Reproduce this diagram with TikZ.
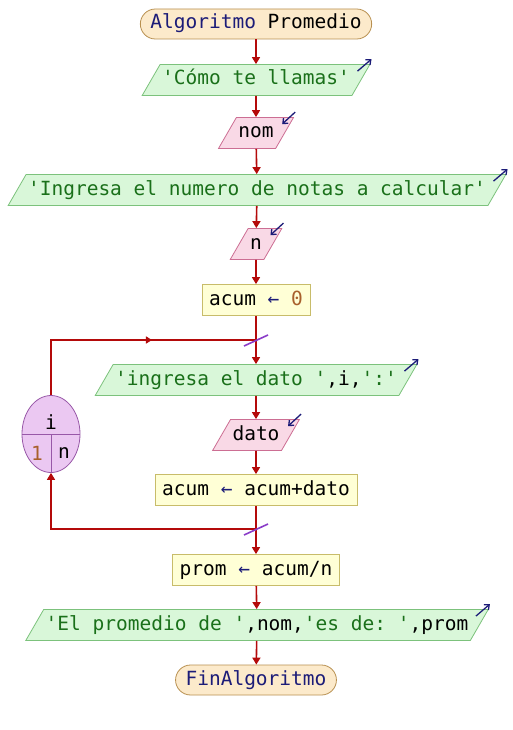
\documentclass[tikz,border=0pt]{standalone}
\usepackage{fontspec}
\setmonofont{DejaVu Sans Mono}
\usetikzlibrary{shapes.geometric,arrows.meta,calc,decorations.markings}

\definecolor{flowc}{HTML}{B40A0A}
\definecolor{ioFill}{HTML}{D9F7D9}
\definecolor{ioDraw}{HTML}{7CC27C}
\definecolor{inFill}{HTML}{F9D9E6}
\definecolor{inDraw}{HTML}{CC6E93}
\definecolor{asgFill}{HTML}{FFFFD6}
\definecolor{asgDraw}{HTML}{C8BC6A}
\definecolor{termFill}{HTML}{FCEACB}
\definecolor{termDraw}{HTML}{B89050}
\definecolor{loopFill}{HTML}{EBC8F2}
\definecolor{loopDraw}{HTML}{9858A8}
\definecolor{kw}{HTML}{1C1C78}
\definecolor{strc}{HTML}{1A701A}
\definecolor{numc}{HTML}{A8602C}
\definecolor{markc}{HTML}{8A3CC8}

\newcommand{\str}[1]{{\color{strc}#1}}
\newcommand{\kwd}[1]{{\color{kw}#1}}
\newcommand{\num}[1]{{\color{numc}#1}}

\tikzset{
  x=1pt, y=1pt,
  base/.style={font=\ttfamily\fontsize{19.5}{23}\selectfont,
    text height=14pt, text depth=4pt, inner ysep=6.5pt, line width=0.8pt},
  term/.style={base, rectangle, rounded corners=15pt, draw=termDraw,
    fill=termFill, inner ysep=6pt, inner xsep=10pt},
  outbox/.style={base, trapezium, trapezium left angle=60,
    trapezium right angle=120, draw=ioDraw, fill=ioFill, inner xsep=2pt},
  inbox/.style={outbox, draw=inDraw, fill=inFill},
  asg/.style={base, rectangle, draw=asgDraw, fill=asgFill, inner xsep=7pt},
  flow/.style={draw=flowc, line width=1.6pt,
    -{Triangle[length=7pt,width=8pt]}},
  loopline/.style={draw=flowc, line width=1.6pt},
  icon/.style={draw=kw, line width=1.3pt,
    -{Straight Barb[length=4pt,width=7pt]}},
  slash/.style={draw=markc, line width=1.6pt},
  looptxt/.style={font=\ttfamily\fontsize{19.5}{23}\selectfont, inner sep=0pt}
}

\begin{document}
\begin{tikzpicture}
  \fill[white] (0,0) rectangle (512,-730);
  \useasboundingbox (0,0) rectangle (512,-730);

  % main column
  \node[term]   (start) at (256,-24)  {\kwd{Algoritmo} Promedio};
  \node[outbox] (o1)    at (256,-80)  {\str{'Cómo te llamas'}};
  \node[inbox]  (nom)   at (256,-133) {nom};
  \node[outbox] (o2)    at (257,-190) {\str{'Ingresa el numero de notas a calcular'}};
  \node[inbox]  (n)     at (256,-244) {n};
  \node[asg]    (a0)    at (256,-300) {acum \kwd{←} \num{0}};
  \node[outbox] (o3)    at (256,-380) {\str{'ingresa el dato '},i,\str{':'}};
  \node[inbox]  (dato)  at (256,-435) {dato};
  \node[asg]    (a1)    at (256,-490) {acum \kwd{←} acum+dato};
  \node[asg]    (a2)    at (256,-570) {prom \kwd{←} acum/n};
  \node[outbox] (o4)    at (257,-625) {\str{'El promedio de '},nom,\str{'es de: '},prom};
  \node[term]   (fin)   at (256,-680) {\kwd{FinAlgoritmo}};

  % loop junctions
  \coordinate (jtop) at (256,-340);
  \coordinate (jbot) at (256,-529);

  % for-loop counter
  \node[ellipse, draw=loopDraw, fill=loopFill, line width=0.8pt,
        minimum width=58pt, minimum height=77pt, inner sep=0pt]
        (loop) at (51,-434) {};
  \draw[loopDraw, line width=0.8pt] (loop.west) -- (loop.east);
  \draw[loopDraw, line width=0.8pt] (loop.center) -- (loop.south);
  \node[looptxt] (lvar)  at (51,-422) {i};
  \node[looptxt] (lfrom) at (37,-453) {\num{1}};
  \node[looptxt] (lto)   at (64,-453) {n};

  % connectors
  \draw[flow] (start) -- (o1);
  \draw[flow] (o1) -- (nom);
  \draw[flow] (nom) -- (o2);
  \draw[flow] (o2) -- (n);
  \draw[flow] (n) -- (a0);
  \draw[flow] (a0) -- (o3);
  \draw[flow] (o3) -- (dato);
  \draw[flow] (dato) -- (a1);
  \draw[flow] (a1) -- (a2);
  \draw[flow] (a2) -- (o4);
  \draw[flow] (o4) -- (fin);

  \draw[loopline, postaction={decorate}, decoration={markings,
        mark=at position 0.6 with {\arrow{Triangle[length=6pt,width=7pt]}}}]
        (loop.north) |- (jtop);
  \draw[flow] (jbot) -| (loop.south);

  % junction marks
  \draw[slash] ($(jtop)+(-12,-6)$) -- ($(jtop)+(12,5)$);
  \draw[slash] ($(jbot)+(-12,-6)$) -- ($(jbot)+(12,5)$);

  % output / input icons
  \draw[icon] ($(o1.top right corner)+(-13,-7)$) -- ++(14,12);
  \draw[icon] ($(o2.top right corner)+(-13,-7)$) -- ++(14,12);
  \draw[icon] ($(o3.top right corner)+(-13,-7)$) -- ++(14,12);
  \draw[icon] ($(o4.top right corner)+(-13,-7)$) -- ++(14,12);
  \draw[icon] ($(nom.top right corner)+(1,5)$) -- ++(-13,-12);
  \draw[icon] ($(n.top right corner)+(1,5)$) -- ++(-13,-12);
  \draw[icon] ($(dato.top right corner)+(1,5)$) -- ++(-13,-12);
\end{tikzpicture}
\end{document}
